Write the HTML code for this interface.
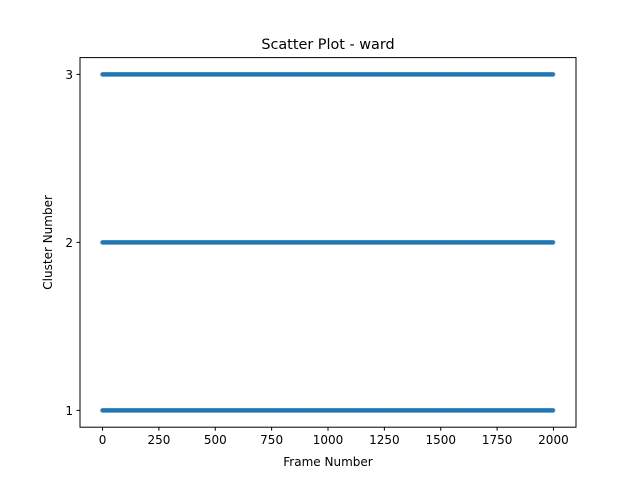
<!DOCTYPE html>
<html><head><meta charset="utf-8"><style>
html,body{margin:0;padding:0;background:#fff;}
svg{display:block;font-family:"DejaVu Sans","Liberation Sans",sans-serif;}
</style></head><body>
<svg id="chart" width="640" height="480" viewBox="0 0 640 480" xmlns="http://www.w3.org/2000/svg">
<rect width="640" height="480" fill="#fff"/>
<text x="328" y="49" font-size="14.4" text-anchor="middle" fill="#000">Scatter Plot - ward</text>
<g id="points"></g>
<rect x="80" y="57.6" width="496" height="369.6" fill="none" stroke="#000" stroke-width="1"/>
<g id="xticks"></g>
<g id="yticks"></g>
<text x="328" y="466" font-size="12" text-anchor="middle">Frame Number</text>
<text transform="translate(52,242.4) rotate(-90)" font-size="12" text-anchor="middle">Cluster Number</text>
</svg>
<script>
const clusters = [1, 2, 3];
const clusterRuns = [[[0, 2000]], [[0, 2000]], [[0, 2000]]];
const xTicks = [0, 250, 500, 750, 1000, 1250, 1500, 1750, 2000];
const yTicks = [1, 2, 3];
const sampleStep = 6;

const NS = "http://www.w3.org/2000/svg";
const L = 80, R = 576, T = 57.6, B = 427.2;
const xMin = -100, xMax = 2100, yMin = 0.9, yMax = 3.1;
const xs = v => L + (v - xMin) / (xMax - xMin) * (R - L);
const ys = v => B - (v - yMin) / (yMax - yMin) * (B - T);

const pg = document.getElementById('points');
clusters.forEach((c, i) => {
  clusterRuns[i].forEach(run => {
    for (let f = run[0]; f <= run[1]; f += sampleStep) {
      const el = document.createElementNS(NS, 'circle');
      el.setAttribute('cx', xs(f));
      el.setAttribute('cy', ys(c));
      el.setAttribute('r', 2.3);
      el.setAttribute('fill', '#1f77b4');
      el.setAttribute('fill-opacity', '0.9');
      
      
      pg.appendChild(el);
    }
  });
});

const xg = document.getElementById('xticks');
xTicks.forEach(t => {
  const ln = document.createElementNS(NS, 'line');
  ln.setAttribute('x1', xs(t)); ln.setAttribute('x2', xs(t));
  ln.setAttribute('y1', B); ln.setAttribute('y2', B + 3.5);
  ln.setAttribute('stroke', '#000');
  
  
  xg.appendChild(ln);
  const tx = document.createElementNS(NS, 'text');
  tx.setAttribute('x', xs(t)); tx.setAttribute('y', B + 17);
  tx.setAttribute('font-size', '12'); tx.setAttribute('text-anchor', 'middle');
  tx.textContent = t;
  
  
  xg.appendChild(tx);
});
const yg = document.getElementById('yticks');
yTicks.forEach(t => {
  const ln = document.createElementNS(NS, 'line');
  ln.setAttribute('x1', L - 3.5); ln.setAttribute('x2', L);
  ln.setAttribute('y1', ys(t)); ln.setAttribute('y2', ys(t));
  ln.setAttribute('stroke', '#000');
  
  
  yg.appendChild(ln);
  const tx = document.createElementNS(NS, 'text');
  tx.setAttribute('x', L - 7); tx.setAttribute('y', ys(t) + 4.5);
  tx.setAttribute('font-size', '12'); tx.setAttribute('text-anchor', 'end');
  tx.textContent = t;
  
  
  yg.appendChild(tx);
});
</script>
</body></html>
